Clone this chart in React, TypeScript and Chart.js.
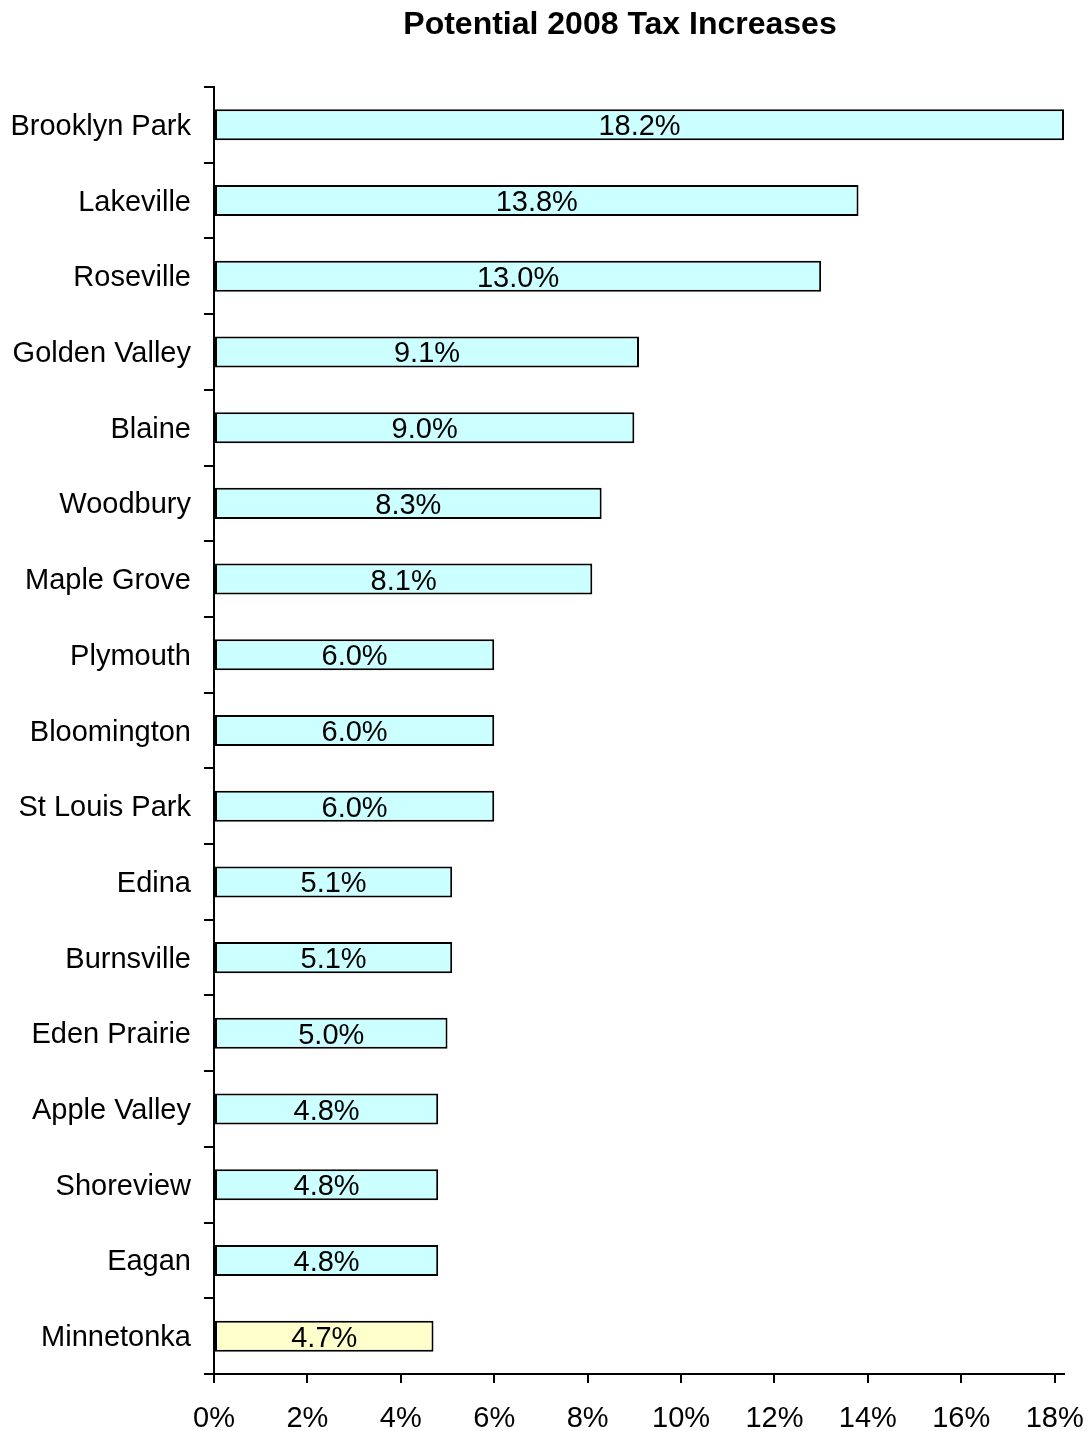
import React, { useEffect, useRef } from "react";
import Chart from "chart.js/auto";

const cities = [
  "Brooklyn Park", "Lakeville", "Roseville", "Golden Valley", "Blaine", "Woodbury",
  "Maple Grove", "Plymouth", "Bloomington", "St Louis Park", "Edina", "Burnsville",
  "Eden Prairie", "Apple Valley", "Shoreview", "Eagan", "Minnetonka",
];
const increases = [18.2, 13.8, 13.0, 9.1, 9.0, 8.3, 8.1, 6.0, 6.0, 6.0, 5.1, 5.1, 5.0, 4.8, 4.8, 4.8, 4.7];
const highlightCity = "Minnetonka";
const xTickValues = [0, 2, 4, 6, 8, 10, 12, 14, 16, 18];
const titleText = "Potential 2008 Tax Increases";

const FONT = "'Liberation Sans', Arial, sans-serif";
const FS = 29;

export default function App() {
  const ref = useRef<HTMLCanvasElement | null>(null);
  useEffect(() => {
    if (!ref.current) return;
    const labelPlugin = {
      id: "barLabels",
      afterDatasetsDraw(chart: any) {
        const ctx = chart.ctx;
        const meta = chart.getDatasetMeta(0);
        ctx.save();
        ctx.font = `${FS}px ${FONT}`;
        ctx.fillStyle = "#000";
        ctx.textAlign = "center";
        ctx.textBaseline = "alphabetic";
        meta.data.forEach((el: any, i: number) => {
          const cx = (el.x + el.base) / 2;
          ctx.fillText(increases[i].toFixed(1) + "%", cx, el.y + 10.5);
        });
        ctx.restore();
      },
    };
    const titlePlugin = {
      id: "customTitle",
      afterDraw(chart: any) {
        const ctx = chart.ctx;
        ctx.save();
        ctx.font = `bold 32px ${FONT}`;
        ctx.fillStyle = "#000";
        ctx.textAlign = "center";
        ctx.textBaseline = "alphabetic";
        ctx.fillText(titleText, 620, 33.5);
        ctx.restore();
      },
    };
    const chart = new Chart(ref.current, {
      type: "bar",
      data: {
        labels: cities,
        datasets: [
          {
            data: increases,
            backgroundColor: cities.map((c) => (c === highlightCity ? "#FFFFCC" : "#CCFFFF")),
            borderColor: "#000",
            borderWidth: 2,
            borderSkipped: false,
            categoryPercentage: 1,
            barPercentage: 0.41,
          },
        ],
      },
      options: {
        indexAxis: "y",
        responsive: false,
        animation: false,
        layout: { padding: { top: 87, right: 26, left: 0, bottom: 0 } },
        plugins: { legend: { display: false }, tooltip: { enabled: false }, title: { display: false } },
        scales: {
          x: {
            type: "linear",
            min: 0,
            max: 18.2,
            afterBuildTicks: (axis: any) => {
              axis.ticks = xTickValues.map((v) => ({ value: v }));
            },
            afterFit: (axis: any) => {
              axis.height = 57;
              axis.paddingLeft = 0;
              axis.paddingRight = 0;
            },
            ticks: {
              color: "#000",
              font: { size: FS, family: FONT },
              padding: 19,
              maxRotation: 0,
              autoSkip: false,
              callback: (v: any) => `${v}%`,
            },
            grid: { drawOnChartArea: false, drawTicks: true, tickLength: 9, color: "#000", lineWidth: 2 },
            border: { display: true, color: "#000", width: 2 },
          },
          y: {
            afterFit: (axis: any) => {
              axis.width = 214;
              axis.paddingTop = 0;
              axis.paddingBottom = 0;
            },
            ticks: {
              color: "#000",
              font: { size: FS, family: FONT },
              padding: 13,
              labelOffset: 2,
              autoSkip: false,
            },
            grid: { offset: true, drawOnChartArea: false, drawTicks: true, tickLength: 10, color: "#000", lineWidth: 2 },
            border: { display: true, color: "#000", width: 2 },
          },
        },
      },
      plugins: [labelPlugin, titlePlugin],
    } as any);
    return () => chart.destroy();
  }, []);
  return (
    <div style={{ position: "absolute", left: 0, top: 0, width: 1090, height: 1431, background: "#fff" }}>
      <canvas ref={ref} width={1090} height={1431} style={{ width: 1090, height: 1431, display: "block" }} />
    </div>
  );
}
